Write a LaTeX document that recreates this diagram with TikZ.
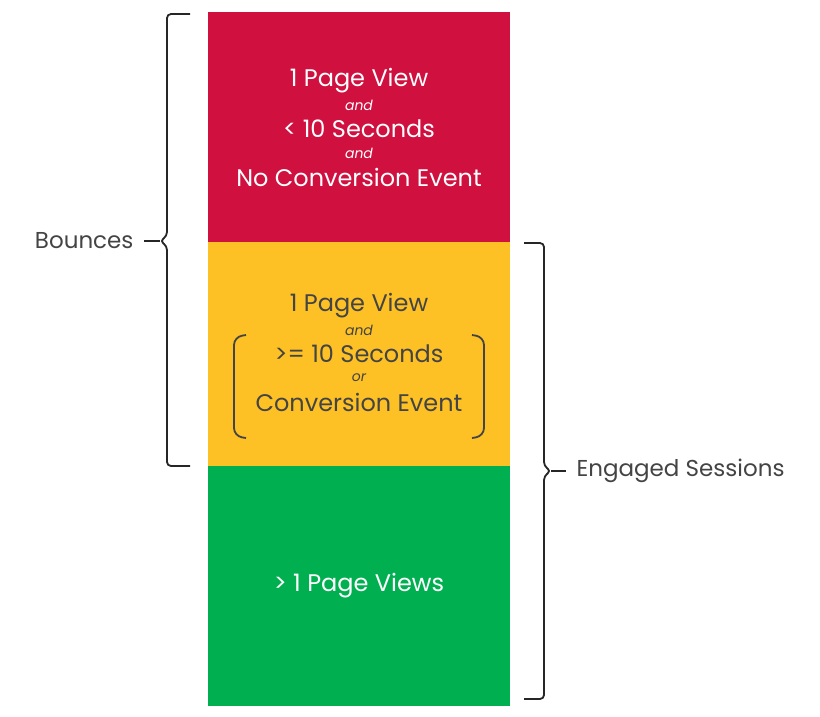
\documentclass[tikz,border=0pt]{standalone}
\usepackage{fontspec}
\setmainfont{Poppins}
\definecolor{cred}{HTML}{D0103F}
\definecolor{cyel}{HTML}{FDC126}
\definecolor{cgrn}{HTML}{00B050}
\definecolor{ctxt}{HTML}{444444}
\begin{document}
\begin{tikzpicture}[x=1pt,y=-1pt,
  big/.style={font=\fontsize{24}{28}\selectfont},
  sm/.style={font=\fontsize{14}{16}\selectfont\itshape},
  br/.style={line width=1.8pt,draw=black!85,rounded corners=4pt}]
\useasboundingbox (0,0) rectangle (820,716);
\fill[cred] (208,12) rectangle (510,242);
\fill[cyel] (208,242) rectangle (510,466);
\fill[cgrn] (208,466) rectangle (510,706);
\begin{scope}[white]
\node[big] (r1) at (359,81) {1 Page View};
\node[sm] (r2) at (359,105) {and};
\node[big] (r3) at (359,129) {< 10 Seconds};
\node[sm] (r4) at (359,153) {and};
\node[big] (r5) at (359,177) {No Conversion Event};
\node[big] (g1) at (359,586) {> 1 Page Views};
\end{scope}
\begin{scope}[ctxt]
\node[big] (y1) at (359,306) {1 Page View};
\node[sm] (y2) at (359,330) {and};
\node[big] (y3) at (359,354) {>= 10 Seconds};
\node[sm] (y4) at (359,378) {or};
\node[big] (y5) at (359,402) {Conversion Event};
\end{scope}
\draw[ctxt,line width=1.8pt,rounded corners=8pt] (246,335) -- (234,337) -- (234,436) -- (246,438);
\draw[ctxt,line width=1.8pt,rounded corners=8pt] (472,335) -- (484,337) -- (484,436) -- (472,438);
\draw[br] (190,14) -- (167,14) -- (167,236) -- (160,241) -- (167,246) -- (167,466) -- (190,466);
\coordinate (lt) at (160,241);
\node[font=\fontsize{23}{26}\selectfont,text=ctxt,anchor=east] (bo) at (137,241) {Bounces};
\draw[line width=1.8pt,black!85] (bo.east)++(7,0) -- (lt);
\draw[br] (524,243) -- (544,243) -- (544,466) -- (551,471) -- (544,476) -- (544,699) -- (524,699);
\coordinate (rt) at (551,471);
\node[font=\fontsize{23}{26}\selectfont,text=ctxt,anchor=west] (en) at (573,471) {Engaged Sessions};
\draw[line width=1.8pt,black!85] (rt) -- (566,471);
\end{tikzpicture}
\end{document}
